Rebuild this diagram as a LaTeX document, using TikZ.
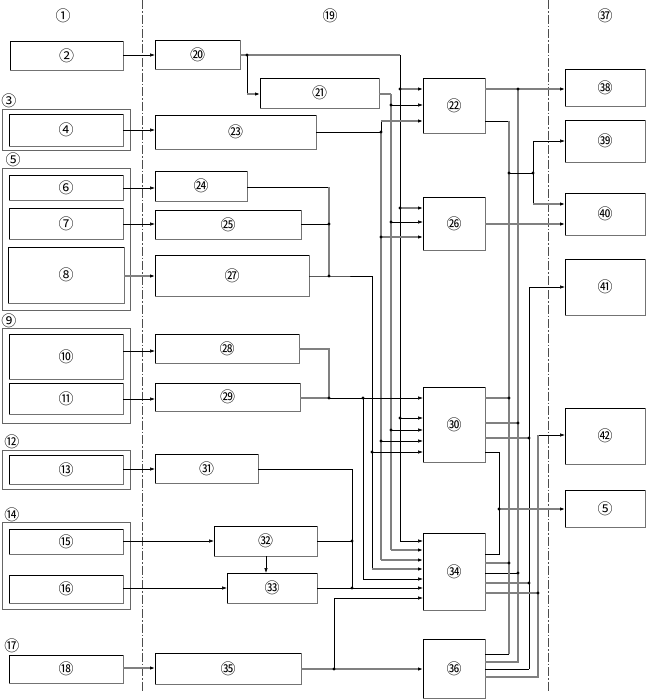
\documentclass[tikz,border=0pt]{standalone}
\usepackage{fontspec}
\newfontfamily\cjk{Noto Sans CJK SC}
\usetikzlibrary{arrows.meta}
\newcommand\mybox[6]{%
  \draw[black, line width=0.6pt] (#2,#3) rectangle (#4,#5);
  \draw[black!55, line width=1pt] (#4,#3) -- (#4,#5) -- (#2,#5);
  \node[lab, minimum width={#4-#2}, minimum height={#5-#3}] (#1) at ({(#2+#4)/2},{(#3+#5)/2}) {#6};
}
\newcommand\mygroup[5]{%
  \node[grp, minimum width={#4-#2}, minimum height={#5-#3}] (#1) at ({(#2+#4)/2},{(#3+#5)/2}) {};
}
\begin{document}
\begin{tikzpicture}[x=1pt,y=-1pt,
  wk/.style={black, line width=0.6pt},
  wg/.style={black!50, line width=1.1pt},
  ar/.style={-{Latex[length=5pt,width=3.5pt,color=black]}},
  lab/.style={font=\cjk\fontsize{15}{15}\selectfont, inner sep=0pt, outer sep=0pt},
  grp/.style={draw=black!60, line width=1pt, inner sep=0pt, outer sep=0pt},
  dd/.style={black!70, line width=0.6pt, dash pattern=on 9pt off 2pt on 1.5pt off 2pt}]
\useasboundingbox (0,0) rectangle (647,699);

% dash-dot separators
\draw[dd] (142,0) -- (142,692);
\draw[dd] (548,0) -- (548,692);

% column labels
\node[lab] (l1) at (63,16) {①};
\node[lab] (l19) at (330,16) {⑲};
\node[lab] (l37) at (605,16) {㊲};

% group labels
\node[lab] (l3) at (9,101) {③};
\node[lab] (l5) at (13,160) {⑤};
\node[lab] (l9) at (9,321) {⑨};
\node[lab] (l12) at (12,442) {⑫};
\node[lab] (l14) at (12,515) {⑭};
\node[lab] (l17) at (12,646) {⑰};

% group frames
\mygroup{g3}{2}{109}{130}{150}
\mygroup{g5}{2}{168}{130}{310}
\mygroup{g9}{2}{328}{130}{423}
\mygroup{g12}{2}{450}{130}{489}
\mygroup{g14}{2}{522}{130}{609}

% left column boxes
\mybox{b2}{10}{41}{123}{70}{②}
\mybox{b4}{9}{114}{123}{146}{④}
\mybox{b6}{9}{175}{123}{200}{⑥}
\mybox{b7}{9}{208}{123}{239}{⑦}
\mybox{b8}{8}{247}{124}{303}{⑧}
\mybox{b10}{9}{334}{123}{379}{⑩}
\mybox{b11}{9}{383}{123}{414}{⑪}
\mybox{b13}{9}{455}{123}{484}{⑬}
\mybox{b15}{9}{529}{123}{554}{⑮}
\mybox{b16}{9}{575}{123}{603}{⑯}
\mybox{b18}{9}{655}{123}{683}{⑱}

% middle boxes
\mybox{b20}{155}{40}{240}{69}{⑳}
\mybox{b21}{260}{78}{379}{108}{㉑}
\mybox{b23}{155}{115}{316}{149}{㉓}
\mybox{b24}{155}{171}{247}{201}{㉔}
\mybox{b25}{155}{210}{301}{239}{㉕}
\mybox{b27}{155}{255}{309}{296}{㉗}
\mybox{b28}{155}{334}{299}{363}{㉘}
\mybox{b29}{155}{383}{300}{411}{㉙}
\mybox{b31}{155}{454}{258}{483}{㉛}
\mybox{b32}{214}{526}{317}{556}{㉜}
\mybox{b33}{227}{573}{317}{603}{㉝}
\mybox{b35}{155}{653}{301}{684}{㉟}

\mybox{b22}{423}{78}{485}{133}{㉒}
\mybox{b26}{423}{197}{485}{250}{㉖}
\mybox{b30}{423}{387}{485}{462}{㉚}
\mybox{b34}{423}{533}{485}{610}{㉞}
\mybox{b36}{423}{639}{485}{698}{㊱}

% right column boxes
\mybox{b38}{565}{69}{645}{106}{㊳}
\mybox{b39}{565}{120}{645}{162}{㊴}
\mybox{b40}{565}{193}{645}{235}{㊵}
\mybox{b41}{565}{259}{645}{315}{㊶}
\mybox{b42}{565}{408}{645}{464}{㊷}
\mybox{b5r}{565}{490}{645}{527}{⑤}

% left-to-middle arrows
\draw[wk,ar] (b2.east |- 0,55) -- (b20.west |- 0,55);
\draw[wk,ar] (b4.east |- 0,130) -- (b23.west |- 0,130);
\draw[wk,ar] (b6.east |- 0,188) -- (b24.west |- 0,188);
\draw[wk,ar] (b7.east |- 0,224) -- (b25.west |- 0,224);
\draw[wg,ar] (b8.east |- 0,276) -- (b27.west |- 0,276);
\draw[wk,ar] (b10.east |- 0,351) -- (b28.west |- 0,351);
\draw[wk,ar] (b11.east |- 0,399) -- (b29.west |- 0,399);
\draw[wk,ar] (b13.east |- 0,469) -- (b31.west |- 0,469);
\draw[wk,ar] (b15.east |- 0,541) -- (b32.west |- 0,541);
\draw[wk,ar] (b16.east |- 0,588) -- (b33.west |- 0,588);
\draw[wg,ar] (b18.east |- 0,668) -- (b35.west |- 0,668);
\draw[wk,ar] (b32.south -| 266,0) -- (b33.north -| 266,0);

% junction coordinates (middle)
\coordinate (j20) at (247,55);
\coordinate (a0) at (400,55);  \coordinate (a22) at (400,89);
\coordinate (a26) at (400,208); \coordinate (a30) at (400,418); \coordinate (a34) at (400,541);
\coordinate (bb0) at (391,94); \coordinate (bb22) at (391,105);
\coordinate (bb26) at (391,222); \coordinate (bb30) at (391,430); \coordinate (bb34) at (391,550);
\coordinate (c0) at (381,132); \coordinate (c22) at (381,121);
\coordinate (c26) at (381,237); \coordinate (c30) at (381,441); \coordinate (c34) at (381,560);
\coordinate (d24) at (329,187); \coordinate (d25) at (329,224); \coordinate (d27) at (329,276);
\coordinate (d0) at (372,276); \coordinate (d30) at (372,452); \coordinate (d34) at (372,569);
\coordinate (e28) at (329,349); \coordinate (e29) at (329,398);
\coordinate (e30) at (363,398); \coordinate (e34) at (363,579);
\coordinate (f31) at (352,469); \coordinate (f32) at (352,541); \coordinate (f33) at (352,588);
\coordinate (g35) at (334,669); \coordinate (g34) at (334,598);

% bus from 20
\draw[wg] (b20.east |- j20) -- (a0);
\draw[wk] (a0) -- (a34);
\draw[wk] (j20) -- (247,94);
\draw[wg,ar] (247,94) -- (b21.west |- 0,94);
\draw[wg,ar] (a22) -- (b22.west |- a22);
\draw[wg,ar] (a26) -- (b26.west |- a26);
\draw[wk,ar] (a30) -- (b30.west |- a30);
\draw[wk,ar] (a34) -- (b34.west |- a34);

% bus from 21
\draw[wg] (b21.east |- bb0) -- (bb0);
\draw[wg] (bb0) -- (bb34);
\draw[wk,ar] (bb22) -- (b22.west |- bb22);
\draw[wk,ar] (bb26) -- (b26.west |- bb26);
\draw[wk,ar] (bb30) -- (b30.west |- bb30);
\draw[wg,ar] (bb34) -- (b34.west |- bb34);

% bus from 23
\draw[wk] (b23.east |- c0) -- (c0);
\draw[wk] (c0) -- (c22);
\draw[wg] (c0) -- (c34);
\draw[wg,ar] (c22) -- (b22.west |- c22);
\draw[wg,ar] (c26) -- (b26.west |- c26);
\draw[wk,ar] (c30) -- (b30.west |- c30);
\draw[wg,ar] (c34) -- (b34.west |- c34);

% bus from 24/25/27
\draw[wk] (b24.east |- d24) -- (d24);
\draw[wg] (d24) -- (d27);
\draw[wk] (b25.east |- d25) -- (d25);
\draw[wk] (b27.east |- d27) -- (d27) -- (d0);
\draw[wk] (d0) -- (d34);
\draw[wk,ar] (d30) -- (b30.west |- d30);
\draw[wg,ar] (d34) -- (b34.west |- d34);

% bus from 28/29
\draw[wg] (b28.east |- e28) -- (e28) -- (e29);
\draw[wg] (b29.east |- e29) -- (e29);
\draw[wk,ar] (e29) -- (b30.west |- e29);
\draw[wk] (e30) -- (e34);
\draw[wk,ar] (e34) -- (b34.west |- e34);

% bus from 31/32/33
\draw[wk] (b31.east |- f31) -- (f31) -- (f33);
\draw[wk] (b32.east |- f32) -- (f32);
\draw[wk,ar] (b33.east |- f33) -- (b34.west |- f33);

% bus from 35
\draw[wg,ar] (b35.east |- g35) -- (b36.west |- g35);
\draw[wk] (g35) -- (g34);
\draw[wk,ar] (g34) -- (b34.west |- g34);

% junction coordinates (right)
\coordinate (r1a) at (518,89); \coordinate (r1b) at (518,423); \coordinate (r1c) at (518,573); \coordinate (r1d) at (518,662);
\coordinate (r2a) at (509,121); \coordinate (r2b) at (509,173); \coordinate (r2c) at (509,398);
\coordinate (r2d) at (509,563); \coordinate (r2e) at (509,654);
\coordinate (s0) at (533,173); \coordinate (s39) at (533,141); \coordinate (s40) at (533,204);
\coordinate (r3a) at (529,287); \coordinate (r3b) at (529,438); \coordinate (r3c) at (529,583); \coordinate (r3d) at (529,669);
\coordinate (r4a) at (538,435); \coordinate (r4b) at (538,593); \coordinate (r4c) at (538,677);
\coordinate (r5a) at (499,452); \coordinate (r5b) at (499,509); \coordinate (r5c) at (499,554);

% to 38
\draw[wg,ar] (b22.east |- r1a) -- (b38.west |- r1a);
\draw[wg] (r1a) -- (r1d) -- (b36.east |- r1d);
\draw[wg] (b30.east |- r1b) -- (r1b);
\draw[wk] (b34.east |- r1c) -- (r1c);
% to 39/40
\draw[wk] (b22.east |- r2a) -- (r2a);
\draw[wg] (r2a) -- (r2e);
\draw[wk] (r2e) -- (b36.east |- r2e);
\draw[wk] (r2b) -- (s0);
\draw[wk] (s39) -- (s40);
\draw[wk,ar] (s39) -- (b39.west |- s39);
\draw[wg,ar] (s40) -- (b40.west |- s40);
\draw[wg] (b30.east |- r2c) -- (r2c);
\draw[wg] (b34.east |- r2d) -- (r2d);
\draw[wg,ar] (b26.east |- 0,224) -- (b40.west |- 0,224);
% to 41
\draw[wk,ar] (r3a) -- (b41.west |- r3a);
\draw[wk] (r3a) -- (r3d);
\draw[wk] (r3d) -- (b36.east |- r3d);
\draw[wg] (b30.east |- r3b) -- (r3b);
\draw[wg] (b34.east |- r3c) -- (r3c);
% to 42
\draw[wk,ar] (r4a) -- (b42.west |- r4a);
\draw[wg] (r4a) -- (r4c) -- (b36.east |- r4c);
\draw[wg] (b34.east |- r4b) -- (r4b);
% to 5
\draw[wk] (b30.east |- r5a) -- (r5a) -- (r5c) -- (b34.east |- r5c);
\draw[wg,ar] (r5b) -- (b5r.west |- r5b);

% junction dots
\foreach \j in {j20,a22,a26,a30,bb22,bb26,bb30,c0,c26,c30,d25,d27,d30,e29,e30,f32,f33,g35,
  r1a,r1b,r1c,r2b,r2c,r2d,s0,r3b,r3c,r4b,r5b}
  \fill (\j) circle (1.7pt);
\end{tikzpicture}
\end{document}
